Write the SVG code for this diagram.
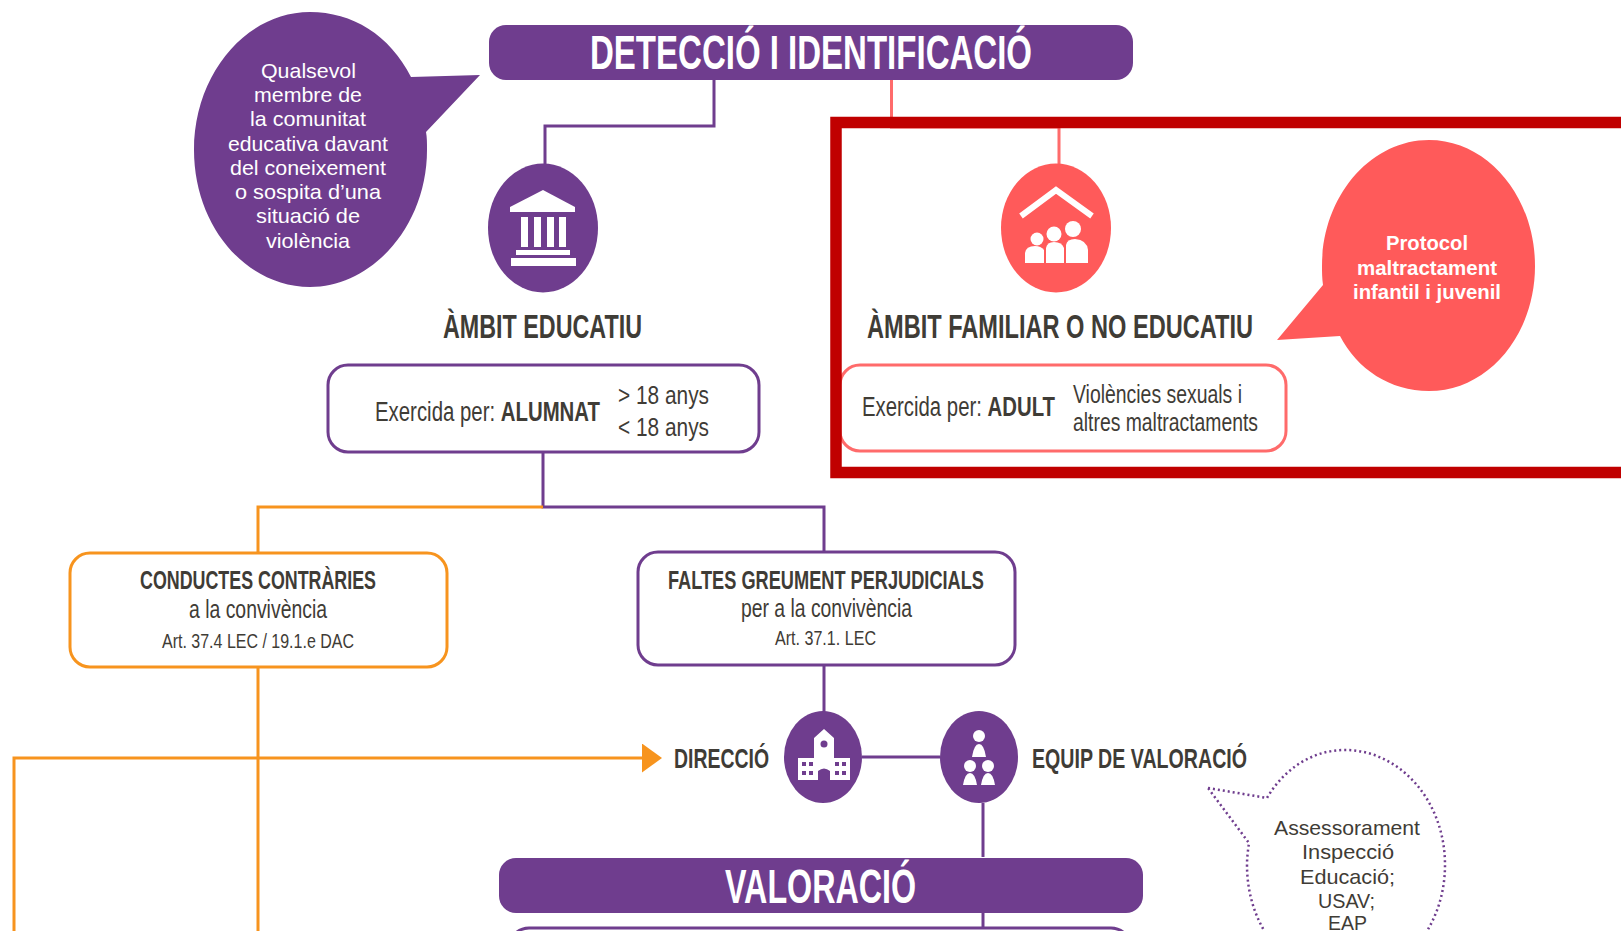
<svg xmlns="http://www.w3.org/2000/svg" width="1621" height="931" viewBox="0 0 1621 931">
<style>
text{font-family:"Liberation Sans Narrow","Liberation Sans",Arial,sans-serif;fill:#3f3c36}
.b{font-weight:700}
.w{fill:#fff}
.s{font-family:"Liberation Sans",Arial,sans-serif}
.p{fill:#6f3d8e}
.r{fill:#ff5a5a}
.i{fill:#fff}
.box{fill:#fff;stroke-width:3}
.lp{fill:none;stroke:#6f3d8e;stroke-width:3}
.lr{fill:none;stroke:#ff6b6b;stroke-width:3}
.lo{fill:none;stroke:#f7941e;stroke-width:3}
</style>
<defs>
<marker id="ah" markerUnits="userSpaceOnUse" markerWidth="20" markerHeight="29" refX="0" refY="14.5" orient="auto"><path d="M0 0L20 14.5L0 29Z" fill="#f7941e"/></marker>
</defs>
<rect width="1621" height="931" fill="#fff"/>
<g id="connectors">
<path class="lp" d="M714 80V126H545V164"/>
<path class="lr" d="M891.5 80V127H1059V164"/>
<path class="lp" d="M543 452V507H824V552"/>
<path class="lo" d="M543 507H258V553"/>
<path class="lo" d="M258 667V931"/>
<path class="lo" d="M14 931V758H642" marker-end="url(#ah)"/>
<path class="lp" d="M824 666V712"/>
<path class="lp" d="M862 757H940" stroke-width="3.5"/>
<path class="lp" d="M983 803V857"/>
<path class="lp" d="M983 913V928"/>
</g>
<g id="bubble-educatiu">
<path class="p" d="M480 75L411 77C390 35 352 12 310 12C246 12 194 74 194 150C194 226 246 287 310 287C372 287 427 226 427 150C427 143 427 137 426 132Z"/>
<text class="w s" x="261" y="78" font-size="21" textLength="95" lengthAdjust="spacingAndGlyphs">Qualsevol</text>
<text class="w s" x="254" y="102" font-size="21" textLength="108" lengthAdjust="spacingAndGlyphs">membre de</text>
<text class="w s" x="250" y="126" font-size="21" textLength="116" lengthAdjust="spacingAndGlyphs">la comunitat</text>
<text class="w s" x="228" y="151" font-size="21" textLength="160" lengthAdjust="spacingAndGlyphs">educativa davant</text>
<text class="w s" x="230" y="175" font-size="21" textLength="156" lengthAdjust="spacingAndGlyphs">del coneixement</text>
<text class="w s" x="235" y="199" font-size="21" textLength="146" lengthAdjust="spacingAndGlyphs">o sospita d’una</text>
<text class="w s" x="256" y="223" font-size="21" textLength="104" lengthAdjust="spacingAndGlyphs">situació de</text>
<text class="w s" x="266" y="248" font-size="21" textLength="84" lengthAdjust="spacingAndGlyphs">violència</text>
</g>
<g id="header-deteccio">
<rect class="p" x="489" y="25" width="644" height="55" rx="17"/>
<text class="w b" x="590" y="69" font-size="48" textLength="442" lengthAdjust="spacingAndGlyphs">DETECCIÓ I IDENTIFICACIÓ</text>
</g>
<g id="icon-educatiu">
<ellipse class="p" cx="543" cy="228" rx="55" ry="64.500"/>
<path class="i" d="M543 190L575 207V212H510V207Z"/>
<rect class="i" x="521" y="217" width="7" height="30"/>
<rect class="i" x="534" y="217" width="7" height="30"/>
<rect class="i" x="547" y="217" width="7" height="30"/>
<rect class="i" x="559" y="217" width="7" height="30"/>
<rect class="i" x="516" y="250" width="54" height="5"/>
<rect class="i" x="511" y="258" width="65" height="8"/>
</g>
<g id="label-educatiu">
<text class="b" x="443" y="338" font-size="33" textLength="199" lengthAdjust="spacingAndGlyphs">ÀMBIT EDUCATIU</text>
</g>
<g id="box-alumnat">
<rect class="box" x="328" y="365" width="431" height="87" rx="20" stroke="#6f3d8e"/>
<text x="375" y="421" font-size="27" textLength="225" lengthAdjust="spacingAndGlyphs">Exercida per: <tspan class="b">ALUMNAT</tspan></text>
<text x="618" y="404" font-size="26" textLength="91" lengthAdjust="spacingAndGlyphs">&gt; 18 anys</text>
<text x="618" y="436" font-size="26" textLength="91" lengthAdjust="spacingAndGlyphs">&lt; 18 anys</text>
</g>
<g id="icon-familiar">
<ellipse class="r" cx="1056" cy="228" rx="55" ry="64.500"/>
<path d="M1021 216L1056 190L1092 216" fill="none" stroke="#fff" stroke-width="6"/>
<circle class="i" cx="1037" cy="239" r="6.500"/>
<circle class="i" cx="1054" cy="234" r="7.500"/>
<circle class="i" cx="1073" cy="229" r="8"/>
<path class="i" d="M1025 263V253Q1026 246 1035 246Q1041 246 1044 250V263Z"/>
<path class="i" d="M1046 263V248Q1047 242 1054 242Q1062 242 1064 248V263Z"/>
<path class="i" d="M1066 263V245Q1067 239 1075 239Q1087 240 1088 250V263Z"/>
</g>
<g id="label-familiar">
<text class="b" x="867" y="338" font-size="33" textLength="386" lengthAdjust="spacingAndGlyphs">ÀMBIT FAMILIAR O NO EDUCATIU</text>
</g>
<g id="box-adult">
<rect class="box" x="840" y="365" width="446" height="86" rx="20" stroke="#ff6b6b"/>
<text x="862" y="416" font-size="27" textLength="193" lengthAdjust="spacingAndGlyphs">Exercida per: <tspan class="b">ADULT</tspan></text>
<text x="1073" y="403" font-size="25" textLength="169" lengthAdjust="spacingAndGlyphs">Violències sexuals i</text>
<text x="1073" y="431" font-size="25" textLength="185" lengthAdjust="spacingAndGlyphs">altres maltractaments</text>
</g>
<g id="bubble-protocol">
<path class="r" d="M1277 340L1323 285C1322 278 1322 272 1322 266C1322 197 1370 140 1429 140C1488 140 1535 197 1535 266C1535 335 1488 391 1429 391C1390 391 1357 369 1340 336Z"/>
<text class="w s b" x="1386" y="250" font-size="21" textLength="82" lengthAdjust="spacingAndGlyphs">Protocol</text>
<text class="w s b" x="1357" y="275" font-size="21" textLength="140" lengthAdjust="spacingAndGlyphs">maltractament</text>
<text class="w s b" x="1353" y="299" font-size="21" textLength="148" lengthAdjust="spacingAndGlyphs">infantil i juvenil</text>
</g>
<g id="box-conductes">
<rect class="box" x="70" y="553" width="377" height="114" rx="20" stroke="#f7941e"/>
<text class="b" x="140" y="589" font-size="26" textLength="236" lengthAdjust="spacingAndGlyphs">CONDUCTES CONTRÀRIES</text>
<text x="189" y="618" font-size="25" textLength="138" lengthAdjust="spacingAndGlyphs">a la convivència</text>
<text x="162" y="648" font-size="21" textLength="192" lengthAdjust="spacingAndGlyphs">Art. 37.4 LEC / 19.1.e DAC</text>
</g>
<g id="box-faltes">
<rect class="box" x="638" y="552" width="377" height="113" rx="20" stroke="#6f3d8e"/>
<text class="b" x="668" y="589" font-size="26" textLength="316" lengthAdjust="spacingAndGlyphs">FALTES GREUMENT PERJUDICIALS</text>
<text x="741" y="617" font-size="25" textLength="171" lengthAdjust="spacingAndGlyphs">per a la convivència</text>
<text x="775" y="645" font-size="21" textLength="101" lengthAdjust="spacingAndGlyphs">Art. 37.1. LEC</text>
</g>
<g id="direccio">
<text class="b" x="674" y="768" font-size="28" textLength="95" lengthAdjust="spacingAndGlyphs">DIRECCIÓ</text>
<ellipse class="p" cx="823" cy="757" rx="39" ry="46"/>
<path class="i" d="M824 729L834 738V758H850V780H830V771Q824 766 818 771V780H798V758H814V738Z"/>
<circle class="p" cx="824" cy="744" r="3.500"/>
<g class="p">
<rect x="802" y="762" width="4" height="4"/><rect x="809" y="762" width="4" height="4"/>
<rect x="802" y="771" width="4" height="4"/><rect x="809" y="771" width="4" height="4"/>
<rect x="835" y="762" width="4" height="4"/><rect x="842" y="762" width="4" height="4"/>
<rect x="835" y="771" width="4" height="4"/><rect x="842" y="771" width="4" height="4"/>
</g>
</g>
<g id="equip">
<ellipse class="p" cx="979" cy="757" rx="39" ry="46"/>
<circle class="i" cx="979" cy="736" r="6"/>
<path class="i" d="M972 757Q974 744 979 744Q984 744 986 757Z"/>
<circle class="i" cx="970" cy="766" r="6"/>
<circle class="i" cx="988" cy="766" r="6"/>
<path class="i" d="M963 785Q965 773 970 773Q975 773 977 785Z"/>
<path class="i" d="M981 785Q983 773 988 773Q993 773 995 785Z"/>
<text class="b" x="1032" y="768" font-size="28" textLength="215" lengthAdjust="spacingAndGlyphs">EQUIP DE VALORACIÓ</text>
</g>
<g id="bubble-assessorament">
<path d="M1208 788L1267 798C1284 769 1312 750 1345 750C1400 750 1445 801 1445 865C1445 929 1400 980 1345 980C1290 980 1247 929 1247 865C1247 857 1248 850 1249 843Z" fill="none" stroke="#6f3d8e" stroke-width="2.500" stroke-dasharray="2 3"/>
<text class="s" x="1274" y="835" font-size="21" textLength="146" lengthAdjust="spacingAndGlyphs">Assessorament</text>
<text class="s" x="1302" y="859" font-size="21" textLength="92" lengthAdjust="spacingAndGlyphs">Inspecció</text>
<text class="s" x="1300" y="884" font-size="21" textLength="95" lengthAdjust="spacingAndGlyphs">Educació;</text>
<text class="s" x="1318" y="908" font-size="21" textLength="57" lengthAdjust="spacingAndGlyphs">USAV;</text>
<text class="s" x="1328" y="930" font-size="21" textLength="39" lengthAdjust="spacingAndGlyphs">EAP</text>
</g>
<g id="header-valoracio">
<rect class="p" x="499" y="858" width="644" height="55" rx="17"/>
<text class="w b" x="725" y="903" font-size="48" textLength="191" lengthAdjust="spacingAndGlyphs">VALORACIÓ</text>
</g>
<g id="box-next">
<rect class="box" x="509" y="928" width="622" height="40" rx="20" stroke="#6f3d8e"/>
</g>
<g id="highlight">
<path d="M1621 122.500H836V472.500H1621" fill="none" stroke="#c00000" stroke-width="11.500"/>
</g>
</svg>
